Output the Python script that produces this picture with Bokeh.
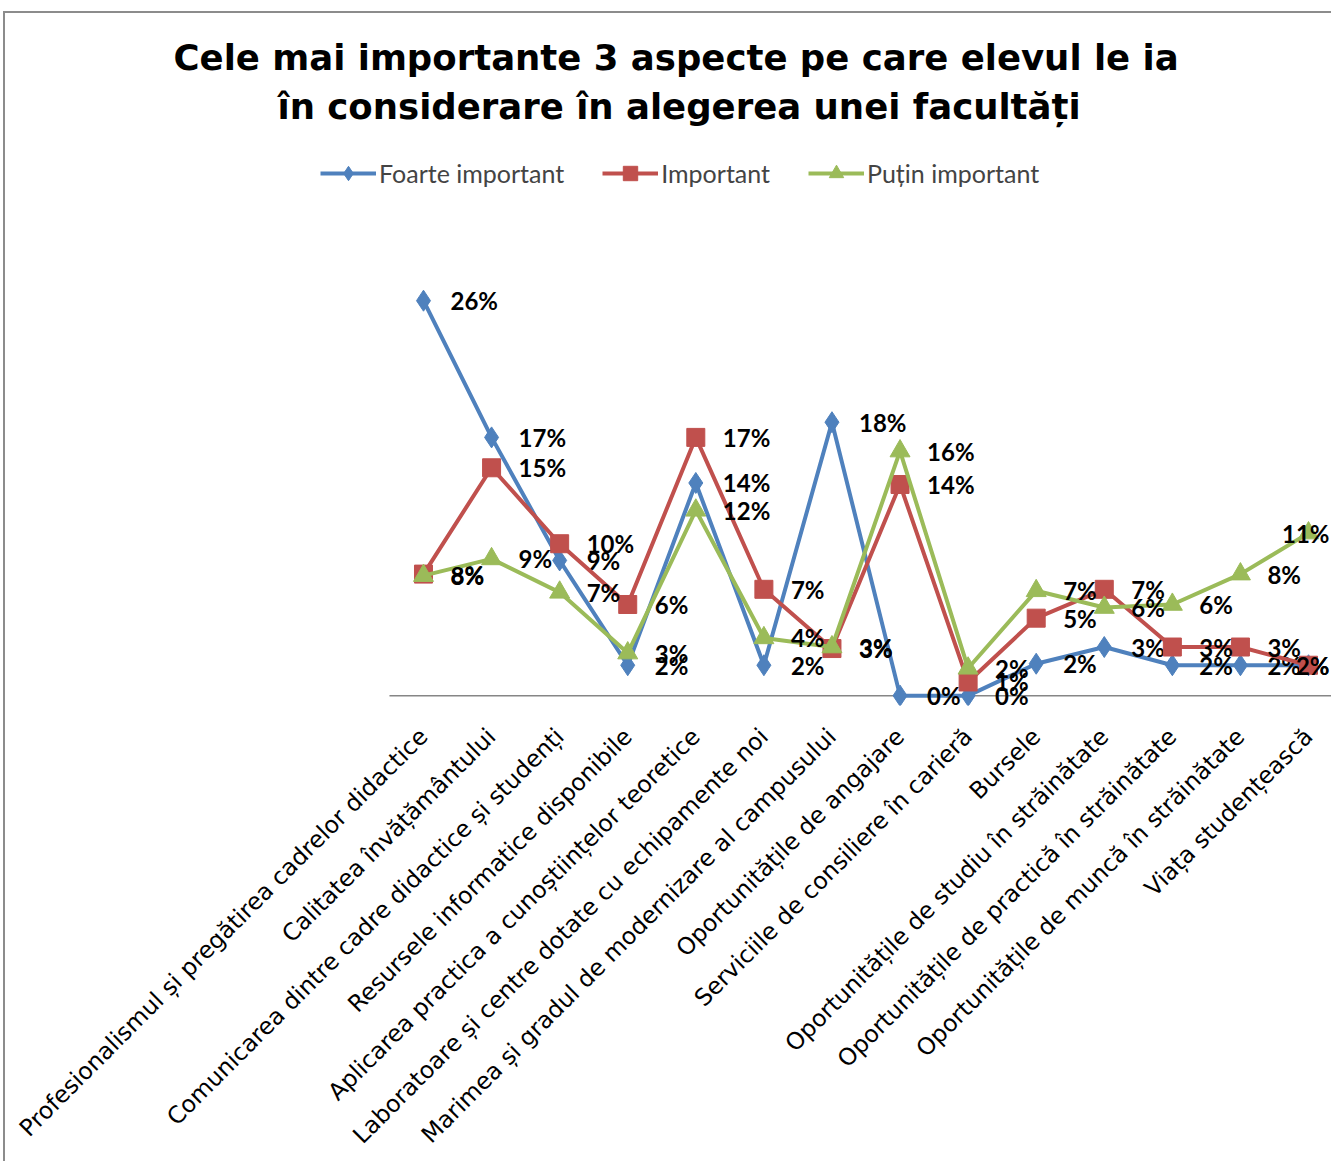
import math
from bokeh.plotting import figure
from bokeh.models import (ColumnDataSource, FixedTicker, Range1d, Legend, LegendItem,
                          Title, CDSView, IndexFilter)
from bokeh.core.properties import value
from bokeh.embed import file_html
from bokeh.resources import INLINE

# ---------------- data ----------------
categories = [
    "Profesionalismul și pregătirea cadrelor didactice",
    "Calitatea învățământului",
    "Comunicarea dintre cadre didactice și studenți",
    "Resursele informatice disponibile",
    "Aplicarea practica a cunoștiințelor teoretice",
    "Laboratoare și centre dotate cu echipamente noi",
    "Marimea și gradul de modernizare al campusului",
    "Oportunitățile de angajare",
    "Serviciile de consiliere în carieră",
    "Bursele",
    "Oportunitățile de studiu în străinătate",
    "Oportunitățile de practică în străinătate",
    "Oportunitățile de muncă în străinătate",
    "Viața studențească",
]
foarte_important = [26.0, 17.0, 8.9, 2.0, 14.0, 2.0, 18.0, 0.0, 0.0, 2.1, 3.2, 2.0, 2.0, 2.0]
important = [8.0, 15.0, 10.0, 6.0, 17.0, 7.0, 3.1, 13.9, 0.9, 5.1, 7.0, 3.2, 3.2, 2.0]
putin_important = [7.9, 9.0, 6.8, 2.8, 12.2, 3.8, 3.2, 16.1, 1.8, 6.9, 5.8, 6.0, 8.0, 10.7]
series_names = ["Foarte important", "Important", "Puțin important"]
title_lines = ["Cele mai importante 3 aspecte pe care elevul le ia",
               "în considerare în alegerea unei facultăți"]

# ---------------- figure ----------------
n = len(categories)
x = list(range(1, n + 1))

p = figure(width=1328, height=1150, output_backend="svg", toolbar_location=None,
           x_range=Range1d(-5.140, 14.367), y_range=Range1d(-0.65, 35.69),
           min_border_left=0, min_border_right=0, min_border_top=140,
           min_border_bottom=458, y_axis_location=None)
p.outline_line_color = None
p.xgrid.visible = False
p.ygrid.visible = False
p.background_fill_color = "white"
p.border_fill_color = "white"
p.styles = {"border-top": "2px solid #8c8c8c", "border-left": "2px solid #8c8c8c",
            "margin-top": "11px", "margin-left": "3px"}

# title: two lines (second line nearest the plot)
for line, so, off in ((title_lines[1], 54, 272), (title_lines[0], -42, 168)):
    p.add_layout(Title(text=line, align="left", text_font="DejaVu Sans",
                       text_font_size="35.5px", text_font_style="bold",
                       text_color="black", standoff=so, offset=off), "above")

# axis line at zero, spanning the category slots
p.segment(x0=[0.5], y0=[0], x1=[n + 0.5], y1=[0], line_color="#868686", line_width=1.5)

colors = ["#4F81BD", "#C0504D", "#9BBB59"]
markers = ["diamond", "square", "triangle"]
sizes = [21, 18, 20]
series = [foarte_important, important, putin_important]

items = []
for name, vals, col, mk, sz in zip(series_names, series, colors, markers, sizes):
    src = ColumnDataSource(dict(x=x, y=vals, lab=[f"{round(v)}%" for v in vals]))
    ln = p.line("x", "y", source=src, line_color=col, line_width=4)
    sc = p.scatter("x", "y", source=src, marker=mk, size=sz,
                   fill_color=col, line_color=col)
    items.append(LegendItem(label=name, renderers=[ln, sc]))
    v_main = CDSView(filter=IndexFilter(list(range(n - 1))))
    v_last = CDSView(filter=IndexFilter([n - 1]))
    p.text("x", "y", text="lab", source=src, view=v_main, x_offset=27,
           text_align="left", text_baseline="middle", text_font=value("Lato"),
           text_font_style="bold", text_font_size="24px", text_color="black")
    p.text("x", "y", text="lab", source=src, view=v_last, x_offset=21,
           text_align="right", text_baseline="middle", text_font=value("Lato"),
           text_font_style="bold", text_font_size="24px", text_color="black")

legend = Legend(items=items, orientation="horizontal", location=(315, 514),
                border_line_color=None, background_fill_alpha=0,
                label_text_font="Lato", label_text_font_size="25px",
                glyph_width=56, glyph_height=36, label_height=36,
                label_standoff=3, spacing=38, padding=0, margin=0)
p.add_layout(legend)

ax = p.xaxis[0]
ax.ticker = FixedTicker(ticks=x)
ax.major_label_overrides = {i: c for i, c in zip(x, categories)}
ax.major_label_orientation = math.pi / 4
ax.major_tick_line_color = None
ax.minor_tick_line_color = None
ax.major_tick_out = 0
ax.axis_line_color = None
ax.major_label_text_font = "DejaVu Sans"
ax.major_label_text_font_size = "23.5px"
ax.major_label_text_color = "black"
ax.major_label_standoff = 27

open("out.html", "w").write(file_html(p, INLINE))
